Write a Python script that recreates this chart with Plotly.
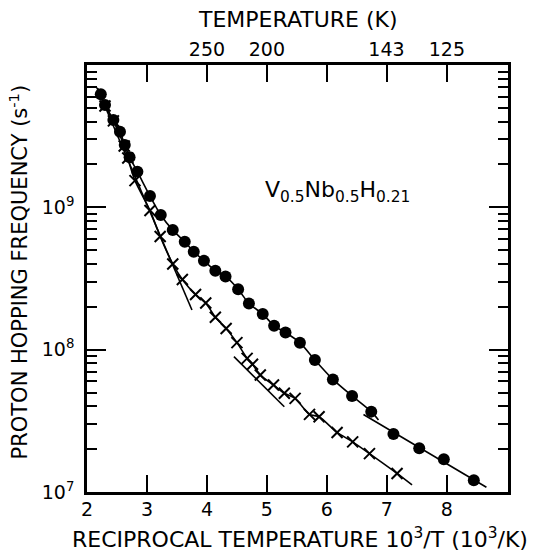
import plotly.graph_objects as go

# ---- data ----
# filled circles: 10^3/T and hopping frequency (s^-1)
circ_x = [2.23, 2.30, 2.44, 2.55, 2.63, 2.71, 2.84, 3.05, 3.23, 3.43, 3.63, 3.78, 3.95,
          4.14, 4.31, 4.52, 4.70, 4.93, 5.12, 5.31, 5.55, 5.80, 6.10, 6.42, 6.74, 7.11,
          7.54, 7.95, 8.45]
circ_y = [6.23e9, 5.24e9, 4.11e9, 3.40e9, 2.74e9, 2.25e9, 1.78e9, 1.20e9, 8.83e8, 6.92e8,
          5.73e8, 4.88e8, 4.22e8, 3.59e8, 3.27e8, 2.66e8, 2.11e8, 1.78e8, 1.47e8, 1.32e8,
          1.12e8, 8.46e7, 6.18e7, 4.73e7, 3.67e7, 2.56e7, 2.03e7, 1.70e7, 1.21e7]

# crosses
cross_x = [2.30, 2.44, 2.62, 2.68, 2.80, 3.05, 3.22, 3.43, 3.59, 3.81, 3.98, 4.14, 4.32,
           4.50, 4.67, 4.76, 4.89, 5.11, 5.29, 5.47, 5.71, 5.87, 6.17, 6.43, 6.71, 7.17]
cross_y = [5.15e9, 4.05e9, 2.70e9, 2.22e9, 1.54e9, 9.51e8, 6.24e8, 4.00e8, 3.11e8, 2.44e8,
           2.13e8, 1.69e8, 1.41e8, 1.12e8, 8.69e7, 7.89e7, 6.63e7, 5.65e7, 4.94e7, 4.55e7,
           3.51e7, 3.38e7, 2.62e7, 2.25e7, 1.86e7, 1.35e7]

# curve start / end points and straight-line (Arrhenius) fit segments
curve_start = (2.17, 6.89e9)
circ_curve_end = (6.86, 3.21e7)
cross_curve_end = (7.42, 1.12e7)
circ_low_line_x = [6.61, 8.66]
circ_low_line_y = [3.50e7, 1.08e7]
cross_steep_x = [2.17, 3.75]
cross_steep_y = [6.89e9, 1.90e8]
cross_mid_x = [4.45, 5.29]
cross_mid_y = [8.94e7, 3.97e7]

# axis ticks
x_ticks = [2, 3, 4, 5, 6, 7, 8]
y_major = [1e7, 1e8, 1e9]
y_major_text = ["10<sup>7</sup>", "10<sup>8</sup>", "10<sup>9</sup>"]
top_tick_pos = [4, 5, 1000 / 143, 8]
top_tick_text = ["250", "200", "143", "125"]

FONT = "DejaVu Sans"

y_minor = [m * 10 ** e for e in (7, 8, 9) for m in range(2, 10)]

fig = go.Figure()

line_style = dict(color="black", width=1.6)

# circle curve (through points 1..25)
ccx = [curve_start[0]] + circ_x[:25] + [circ_curve_end[0]]
ccy = [curve_start[1]] + circ_y[:25] + [circ_curve_end[1]]
fig.add_trace(go.Scatter(x=ccx, y=ccy, mode="lines", line=dict(shape="spline", smoothing=0.7, **line_style),
                         showlegend=False, hoverinfo="skip"))
fig.add_trace(go.Scatter(x=circ_low_line_x, y=circ_low_line_y, mode="lines", line=line_style,
                         showlegend=False, hoverinfo="skip"))
# cross curve
xcx = [curve_start[0]] + cross_x + [cross_curve_end[0]]
xcy = [curve_start[1]] + cross_y + [cross_curve_end[1]]
fig.add_trace(go.Scatter(x=xcx, y=xcy, mode="lines", line=dict(shape="spline", smoothing=0.7, **line_style),
                         showlegend=False, hoverinfo="skip"))
fig.add_trace(go.Scatter(x=cross_steep_x, y=cross_steep_y, mode="lines", line=line_style,
                         showlegend=False, hoverinfo="skip"))
fig.add_trace(go.Scatter(x=cross_mid_x, y=cross_mid_y, mode="lines", line=line_style,
                         showlegend=False, hoverinfo="skip"))

# markers
fig.add_trace(go.Scatter(x=cross_x, y=cross_y, mode="markers",
                         marker=dict(symbol="x-thin", size=11, line=dict(color="black", width=2)),
                         showlegend=False))
fig.add_trace(go.Scatter(x=circ_x, y=circ_y, mode="markers",
                         marker=dict(symbol="circle", size=12, color="black", line=dict(width=0)),
                         showlegend=False))

# dummy trace for top axis
fig.add_trace(go.Scatter(x=[None], y=[None], xaxis="x2", showlegend=False))

fig.update_layout(
    width=551, height=552,
    margin=dict(l=87, r=43, t=65, b=60),
    paper_bgcolor="white", plot_bgcolor="white",
    font=dict(family=FONT, color="black", size=19),
    xaxis=dict(range=[2, 9.02], tickvals=x_ticks, ticks="inside", ticklen=17, tickwidth=1.6,
               tickcolor="black", showline=True, linecolor="black", linewidth=2.5, mirror="ticks",
               showgrid=False, zeroline=False, tickfont=dict(size=19), ticklabelstandoff=-2),
    xaxis2=dict(range=[2, 9.02], overlaying="x", side="top", tickvals=top_tick_pos,
                ticktext=top_tick_text, ticks="", showgrid=False, showline=False, zeroline=False,
                tickfont=dict(size=19), ticklabelstandoff=4),
    yaxis=dict(type="log", range=[7, 10], tickvals=y_major, ticktext=y_major_text,
               ticks="inside", ticklen=19, tickwidth=1.6, tickcolor="black",
               showline=True, linecolor="black", linewidth=2.5, mirror="ticks",
               showgrid=False, zeroline=False, tickfont=dict(size=19), ticklabelstandoff=6,
               minor=dict(tickmode="array", tickvals=y_minor, ticks="inside", ticklen=10,
                          tickwidth=1.6, tickcolor="black", showgrid=False)),
    annotations=[
        dict(text="RECIPROCAL TEMPERATURE 10<sup>3</sup>/T (10<sup>3</sup>/K)", xref="paper", yref="paper",
             x=0.5, y=-0.108, xanchor="center", yanchor="middle", showarrow=False,
             font=dict(size=22), xshift=2),
        dict(text="PROTON HOPPING FREQUENCY (s<sup>-1</sup>)", xref="paper", yref="paper",
             x=0, y=0.5, xanchor="center", yanchor="middle", textangle=-90, showarrow=False,
             font=dict(size=21), xshift=-69, yshift=6),
        dict(text="TEMPERATURE (K)", xref="paper", yref="paper", x=0.5, y=1, xanchor="center",
             yanchor="middle", showarrow=False, font=dict(size=22), yshift=46),
        dict(text="V<sub>0.5</sub>Nb<sub>0.5</sub>H<sub>0.21</sub>", x=6.17, y=9.108,
             xref="x", yref="y", showarrow=False, font=dict(size=22), xanchor="center"),
    ],
)

fig.write_html("out.html")
